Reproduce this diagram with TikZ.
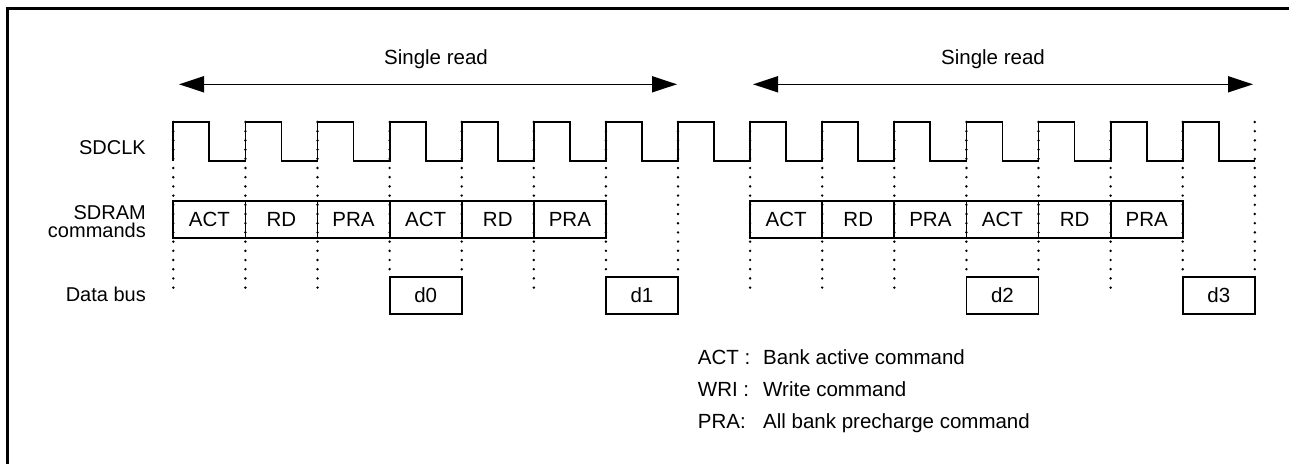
\documentclass[tikz,border=0pt]{standalone}
\usepackage{fontspec}
\setmainfont{Liberation Sans}
\usetikzlibrary{arrows.meta}
\begin{document}
\begin{tikzpicture}[x=1pt,y=-1pt,
  every node/.style={font=\fontsize{20.5}{24}\selectfont},
  lbl/.style={inner sep=0pt},
  rowlbl/.style={inner sep=0pt,anchor=base east,font=\fontsize{20}{23}\selectfont},
  sig/.style={line width=1.8pt,line join=miter},
  cmdbox/.style={draw,line width=1.8pt,minimum width=72.1pt,minimum height=37.6pt,inner sep=0pt},
  databox/.style={draw,line width=1.8pt,minimum width=72.1pt,minimum height=37.3pt,inner sep=0pt},
  guide/.style={line width=2.7pt,line cap=round,dash pattern=on 0pt off 9.2pt},
  span/.style={line width=1.6pt,{Triangle[length=25pt,width=16pt]}-{Triangle[length=25pt,width=16pt]}},
  frame/.style={line width=2.8pt,line join=miter}
]
\useasboundingbox (0,0) rectangle (1289,463);
% frame (top and left only)
\draw[frame] (7.5,466) -- (7.5,8.7) -- (1292,8.7);

% row labels
\node[rowlbl] (lclk) at (146,154) {SDCLK};
\node[rowlbl] (lsd) at (146,219.3) {SDRAM};
\node[rowlbl] (lcmd) at (146,237.3) {commands};
\node[rowlbl] (ldata) at (146,301.5) {Data bus};

% span arrows
\coordinate (a1l) at (179,84.3);
\coordinate (a1r) at (677,84.3);
\coordinate (a2l) at (753,84.3);
\coordinate (a2r) at (1253,84.3);
\draw[span] (a1l) -- (a1r);
\draw[span] (a2l) -- (a2r);
\node[lbl,anchor=base] (s1) at (436,64.3) {Single read};
\node[lbl,anchor=base] (s2) at (993,64.3) {Single read};

% clock
\draw[sig] (173.3,161) \foreach \k in {0,...,14} {
  -- ({173.3+72.1*\k},122) -- ({173.3+72.1*\k+36.05},122)
  -- ({173.3+72.1*\k+36.05},161) -- ({173.3+72.1*(\k+1)},161) };

% command boxes
\foreach \k/\t/\n in {0/ACT/c0,1/RD/c1,2/PRA/c2,3/ACT/c3,4/RD/c4,5/PRA/c5,
  8/ACT/c8,9/RD/c9,10/PRA/c10,11/ACT/c11,12/RD/c12,13/PRA/c13}
  \node[cmdbox] (\n) at ({173.3+72.1*(\k+0.5)},219.5) {\t};

% data boxes
\foreach \k/\t in {3/d0,6/d1,11/d2,14/d3}
  \node[databox] (\t) at ({173.3+72.1*(\k+0.5)},295.3) {\t};

% dotted guide lines
\foreach \k in {0,1,2,5,8,9,10,13}
  \draw[guide] ({173.3+72.1*\k},122) -- ({173.3+72.1*\k},293);
\foreach \k in {3,4,6,7,11,12,14,15}
  \draw[guide] ({173.3+72.1*\k},122) -- ({173.3+72.1*\k},277);

% legend
\node[lbl,anchor=base west] (k1) at (697.7,364) {ACT :};
\node[lbl,anchor=base west] (k2) at (697.7,396) {WRI :};
\node[lbl,anchor=base west] (k3) at (697.7,428.3) {PRA:};
\node[lbl,anchor=base west] (v1) at (763,364) {Bank active command};
\node[lbl,anchor=base west] (v2) at (763,396) {Write command};
\node[lbl,anchor=base west] (v3) at (763,428.3) {All bank precharge command};
\end{tikzpicture}
\end{document}
